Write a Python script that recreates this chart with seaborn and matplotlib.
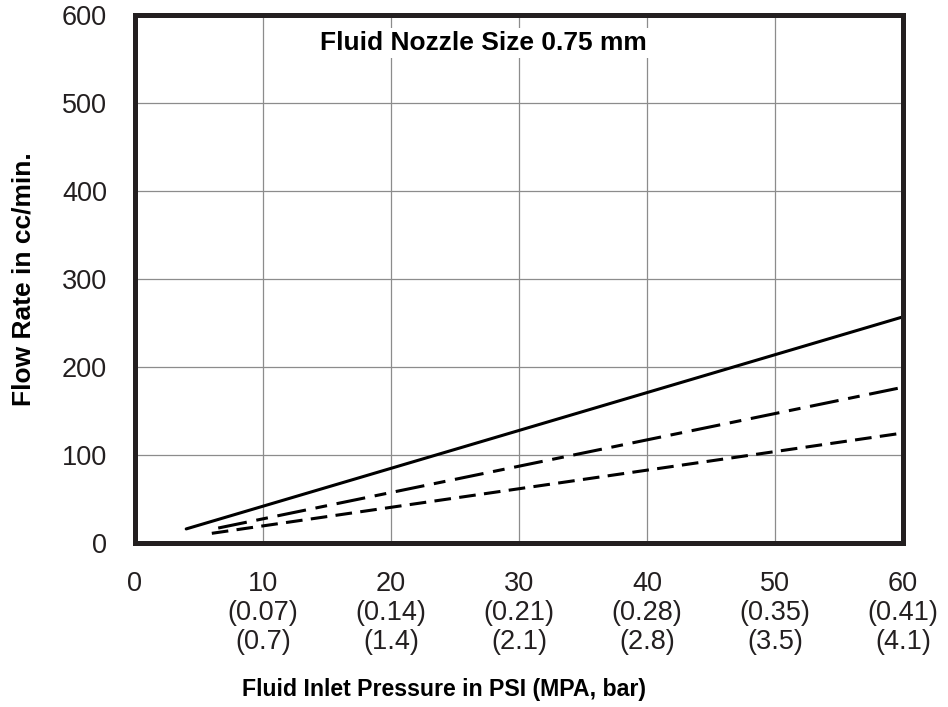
import numpy as np
import pandas as pd
import matplotlib
matplotlib.use('Agg')
import matplotlib.pyplot as plt
import seaborn as sns

# data
psi_solid = [4, 60]
flow_solid = [16, 257]
psi_longdash = [6.5, 60]
flow_longdash = [17, 177]
psi_shortdash = [6, 60]
flow_shortdash = [11, 125]

x_ticks = [0, 10, 20, 30, 40, 50, 60]
mpa_labels = ['', '(0.07)', '(0.14)', '(0.21)', '(0.28)', '(0.35)', '(0.41)']
bar_labels = ['', '(0.7)', '(1.4)', '(2.1)', '(2.8)', '(3.5)', '(4.1)']
y_ticks = [0, 100, 200, 300, 400, 500, 600]

df = pd.concat([
    pd.DataFrame({'psi': psi_solid, 'flow': flow_solid, 'series': 'solid'}),
    pd.DataFrame({'psi': psi_longdash, 'flow': flow_longdash, 'series': 'longdash'}),
    pd.DataFrame({'psi': psi_shortdash, 'flow': flow_shortdash, 'series': 'shortdash'}),
])

sns.set_style('white')
plt.rcParams['font.family'] = ['Liberation Sans', 'DejaVu Sans']
plt.rcParams['lines.scale_dashes'] = False

text_col = '#231f20'
grid_col = '#8c8c8c'

fig = plt.figure(figsize=(9.48, 7.07), dpi=100)
ax = fig.add_axes([135/948, 1-543/707, 768/948, 528/707])

sns.lineplot(data=df, x='psi', y='flow', style='series', ax=ax,
             dashes={'solid': '', 'longdash': (21, 7, 8.5, 7), 'shortdash': (12, 6)},
             color='black', linewidth=2.2, legend=False, zorder=3)

ax.set_xlim(0, 60)
ax.set_ylim(0, 600)
ax.set_xticks(x_ticks)
labels = []
for t, m, b in zip(x_ticks, mpa_labels, bar_labels):
    if m:
        labels.append(f'{t}\n{m}\n{b}')
    else:
        labels.append(f'{t}')
ax.set_xticklabels(labels, va='top', linespacing=1.15)
ax.set_yticks(y_ticks)
ax.grid(True, color=grid_col, linewidth=0.9)
ax.tick_params(axis='both', direction='out', length=16, width=0.8, color=grid_col,
               labelsize=19.5, labelcolor=text_col, pad=4)
for s in ax.spines.values():
    s.set_linewidth(3.6)
    s.set_color(text_col)
    s.set_zorder(4)

ax.text(27.2, 568, 'Fluid Nozzle Size 0.75 mm', ha='center', va='center',
        fontsize=19, fontweight='bold', color='black', zorder=5,
        bbox=dict(facecolor='white', edgecolor='none', pad=2))

ax.set_xlabel('Fluid Inlet Pressure in PSI (MPA, bar)', fontsize=16.7, fontweight='bold', color='black')
ax.set_ylabel('Flow Rate in cc/min.', fontsize=19, fontweight='bold', color='black')
ax.xaxis.set_label_coords(0.402, -0.255)
ax.yaxis.set_label_coords(-0.13, 0.5)

fig.savefig('out.png', dpi=100)
